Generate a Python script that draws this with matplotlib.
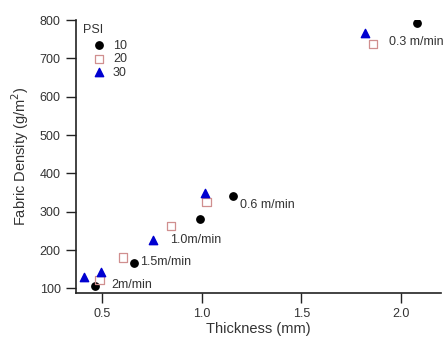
import matplotlib
matplotlib.use("Agg")
import matplotlib.pyplot as plt

# data
thick_10 = [0.466, 0.661, 0.993, 1.158, 2.08]
dens_10 = [107, 165, 282, 341, 793]
thick_20 = [0.487, 0.605, 0.847, 1.025, 1.861]
dens_20 = [122, 181, 263, 325, 737]
thick_30 = [0.412, 0.493, 0.757, 1.018, 1.82]
dens_30 = [129, 143, 226, 348, 766]

speed_labels = ["2m/min", "1.5m/min", "1.0m/min", "0.6 m/min", "0.3 m/min"]
label_x = [0.547, 0.692, 0.842, 1.192, 1.94]
label_y = [110, 168, 226, 318, 742]

plt.rcParams['font.family'] = ['Liberation Sans', 'DejaVu Sans']
txt = '#333333'

fig = plt.figure(figsize=(4.43, 3.39), dpi=100)
ax = fig.add_axes([0.1716, 0.1357, 0.8234, 0.8053])

ax.scatter(thick_10, dens_10, marker='o', s=28, color='black', label='10', zorder=3)
ax.scatter(thick_20, dens_20, marker='s', s=36, facecolor='none',
           edgecolor='#d08f8f', linewidth=0.9, label='20', zorder=3)
ax.scatter(thick_30, dens_30, marker='^', s=36, color='#0000d0', label='30', zorder=3)

for lx, ly, s in zip(label_x, label_y, speed_labels):
    ax.text(lx, ly, s, fontsize=9, color=txt, va='center', ha='left', clip_on=False)

ax.set_xlim(0.37, 2.2)
ax.set_ylim(88, 800)
ax.set_xticks([0.5, 1.0, 1.5, 2.0])
ax.set_yticks([100, 200, 300, 400, 500, 600, 700, 800])
ax.tick_params(direction='out', length=7, width=1, labelsize=9, labelcolor=txt,
               colors='#222222', pad=4)
ax.spines['top'].set_visible(False)
ax.spines['right'].set_visible(False)
for sp in ['left', 'bottom']:
    ax.spines[sp].set_linewidth(1.2)
    ax.spines[sp].set_color('#222222')

ax.set_xlabel('Thickness (mm)', fontsize=10.5, color=txt, labelpad=1)
ax.set_ylabel('Fabric Density (g/m$^2$)', fontsize=10.5, color=txt, labelpad=6)

# legend, with its title placed a little left of the markers
leg = ax.legend(loc='upper left', bbox_to_anchor=(0.036, 0.928),
                frameon=False, fontsize=9, handletextpad=0.3,
                labelspacing=0.12, borderpad=0.0, handlelength=1.6,
                borderaxespad=0.0)
for t in leg.get_texts():
    t.set_color(txt)
ax.text(0.019, 0.985, 'PSI', transform=ax.transAxes, fontsize=9, color=txt,
        ha='left', va='top')

fig.savefig('out.png', dpi=100)
